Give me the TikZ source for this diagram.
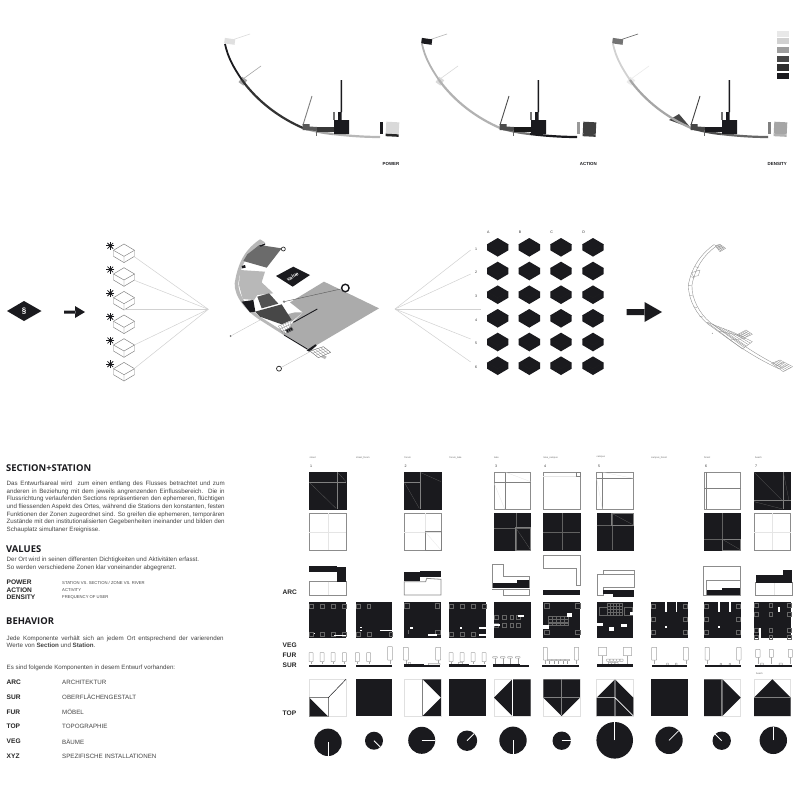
\documentclass[tikz,border=0pt]{standalone}
\usepackage{fontspec}
\setmainfont{Liberation Sans}
\newfontfamily\headfont{Open Sans}
\usetikzlibrary{calc}
\definecolor{inkc}{HTML}{1A1A1E}
\definecolor{txtc}{HTML}{444444}
\tikzset{
 blk/.style={fill=inkc,draw=none},
 bx/.style={draw=black!45,line width=0.8pt,fill=white},
 bxk/.style={draw=inkc,fill=inkc},
 fnt/.style={draw=black!10,line width=0.25pt},
 fntd/.style={draw=black!62,line width=0.22pt},
 gln/.style={draw=black!50,line width=0.8pt},
 ray/.style={draw=black!18,line width=0.5pt},
 pln/.style={draw=black!60,line width=0.38pt},
 tre/.style={draw=black!35,line width=0.5pt,fill=white,rounded corners=0.4pt},
 lab/.style={anchor=west,inner sep=0pt,font=\fontsize{6.2}{7.5}\selectfont,text=txtc},
 blab/.style={anchor=west,inner sep=0pt,font=\fontsize{6.6}{7.5}\selectfont\bfseries,text=black!85},
 hd/.style={anchor=west,inner sep=0pt,font=\headfont\fontsize{9.4}{11}\selectfont\bfseries,text=inkc},
 tinyl/.style={inner sep=0pt,font=\fontsize{2.4}{3}\selectfont,text=black!60},
 idx/.style={inner sep=0pt,font=\fontsize{3.6}{4}\selectfont,text=black!80},
 capl/.style={anchor=east,inner sep=0pt,font=\fontsize{4.4}{5}\selectfont\bfseries,text=inkc},
 lns/.style={draw=black!45,line width=0.3pt},
}
\newcommand\cellat[3]{\begin{scope}[shift={(#1,#2)},scale=0.33333]#3\end{scope}}
\newcommand\pl[1]{\foreach \x/\y in {#1}{\draw[pln] (\x,\y) rectangle ++(11,12);}}
\newcommand\wb[4]{\fill[white] (#1,#2) rectangle (#3,#4);}
\newcommand\kb[4]{\fill[inkc] (#1,#2) rectangle (#3,#4);}
\newcommand\tree[4]{\draw[draw=black!35,line width=0.3pt] ({(#1+#3)/2},#4) -- ({(#1+#3)/2},118); \draw[tre] (#1,#2) rectangle (#3,#4);}
\newcommand\tee[2]{\draw[draw=black!40,line width=0.3pt] ({#1},#2) -- ({#1},118); \draw[tre] ({#1-7},{#2-4}) rectangle ({#1+7},#2);}
\newcommand\gpatch[6]{%
 \foreach \t in {0,0.2,0.4,0.6,0.8,1}{\draw[lns] ($(#1)!\t!(#2)$) -- ($(#4)!\t!(#3)$);}%
 \foreach \t in {0,0.33,0.66,1}{\draw[lns] ($(#1)!\t!(#4)$) -- ($(#2)!\t!(#3)$);}}
\newcommand\iso[3]{% light box, name, x, y
 \begin{scope}[shift={(#2,#3)}]
 \draw[draw=black!50,line width=0.45pt,fill=white] (0,-9.3) -- (10.5,-3) -- (10.5,3) -- (0,9.3) -- (-10.5,3) -- (-10.5,-3) -- cycle;
 \draw[draw=black!50,line width=0.45pt] (-10.5,-3) -- (0,3) -- (10.5,-3) (0,3) -- (0,9.3);
 \foreach \a in {0,45,90,135}{\draw[inkc,line width=0.75pt] (-13.7,-7.5)++(\a:4) -- ++(\a+180:8);}
 \fill[inkc] (-13.7,-7.5) circle (1.9);
 \end{scope}}
\newcommand\hexk[2]{%
 \begin{scope}[shift={(#1,#2)}]
 \fill[inkc] (0,-9.3) -- (10.7,-3) -- (10.7,3) -- (0,9.3) -- (-10.7,3) -- (-10.7,-3) -- cycle;
 \draw[draw=black!88,line width=0.2pt] (-10.7,-3) -- (0,3) -- (10.7,-3) (0,3) -- (0,9.3);
 \end{scope}}
\newcommand\panel[1]{%
 \begin{scope}[shift={(#1,0)}]
 \draw[pline,line width=0.6pt] (232,40) -- (250,34);
 \draw[pbtwo,line width=0.6pt] (243,79) -- (261,66);
 \draw[plthree,line width=0.9pt] (303,125) -- (312,96);
 \fill[ptop,rotate around={-8:(229,41)}] (224.5,38.5) rectangle (235,44);
 \fill[pbtwo,rotate around={-35:(243,81)}] (240,78) rectangle (246,84.5);
 \draw[pa,line width=1.8pt] (225,44) .. controls (228,58) and (234,68) .. (242,80);
 \draw[pb,line width=2.2pt] (242,80) .. controls (258,102) and (280,118) .. (303,128);
 \draw[pc,line width=2.3pt] (303,128) .. controls (313,131) and (323,133) .. (333,134);
 \draw[pd,line width=2.2pt] (333,134) .. controls (350,136) and (365,137) .. (380,137);
 \fill[pe] (302.5,124) -- (309.5,124) -- (309.5,126.5) -- (317,127) -- (317,131) -- (302.5,130) -- cycle;
 \fill[pf] (317,127) rectangle (334,131.5);
 \fill[inkc] (334,120) rectangle (349,134) (338,112) rectangle (341.5,120) (340.5,80) rectangle (342,112);
 \fill[black!55] (333,112) rectangle (334.5,120);
 \fill[black!60] (316.4,130) rectangle (316.9,136);
 \fill[pg] (380,122) rectangle (383,134);
 \fill[ph,rotate around={-3:(392,128)}] (386,122) rectangle (399,134);
 \fill[pi,rotate around={-3:(392,128)}] (386,134) rectangle (399,136.5);
 \end{scope}}
\begin{document}
\begin{tikzpicture}[x=1pt,y=-1pt]
\useasboundingbox (0,0) rectangle (800,800);
\fill[white] (0,0) rectangle (800,800);
% ---------- top panels
\colorlet{pline}{black!15}\colorlet{plthree}{black!50}\colorlet{pbtwo}{black!35}
\colorlet{ptop}{black!12}\colorlet{pa}{inkc}\colorlet{pb}{black!80}\colorlet{pc}{black!35}\colorlet{pd}{black!28}
\colorlet{pe}{black!65}\colorlet{pf}{black!78}\colorlet{pg}{inkc}\colorlet{ph}{black!15}\colorlet{pi}{black!85}
\panel{0}
\colorlet{pline}{black!30}\colorlet{plthree}{black!70}\colorlet{pbtwo}{black!15}
\colorlet{ptop}{inkc}\colorlet{pa}{black!30}\colorlet{pb}{black!30}\colorlet{pc}{black!55}\colorlet{pd}{inkc}
\colorlet{pe}{black!70}\colorlet{pf}{black!90}\colorlet{pg}{black!40}\colorlet{ph}{black!75}\colorlet{pi}{black!75}
\panel{197}
\colorlet{pline}{black!65}\colorlet{plthree}{black!75}\colorlet{pbtwo}{black!8}
\colorlet{ptop}{black!55}\colorlet{pa}{black!18}\colorlet{pb}{black!35}\colorlet{pc}{black!70}\colorlet{pd}{black!60}
\colorlet{pe}{black!72}\colorlet{pf}{inkc}\colorlet{pg}{black!50}\colorlet{ph}{black!35}\colorlet{pi}{black!30}
\fill[black!72] (669,120) -- (679,114) -- (690,127) -- (680,124) -- cycle;
\panel{388}
\node[capl] (capP) at (399.5,164) {POWER};
\node[capl] (capA) at (597,164) {ACTION};
\node[capl] (capD) at (787,164) {DENSITY};
\fill[black!9] (777,31) rectangle (789,37);
\fill[black!18] (777,38.5) rectangle (789,44.5);
\fill[black!38] (777,47.5) rectangle (789,53.5);
\fill[black!72] (777,56) rectangle (789,62.5);
\fill[black!82] (777,64.5) rectangle (789,70.5);
\fill[inkc] (777,73) rectangle (789,79);
% ---------- middle row left
\fill[inkc] (7,311) -- (24,301) -- (41.5,311) -- (24,321) -- cycle;
\node[inner sep=0pt,text=white,font=\fontsize{8}{9}\selectfont\bfseries] (para) at (24,311) {§};
\fill[inkc] (64,310.5) rectangle (75.5,313.5) (75,306) -- (85,312) -- (75,318) -- cycle;
\foreach \yy in {253.3,277,300.7,324.3,348,371.7}{\iso{}{124}{\yy}}
\coordinate (apexL) at (208.3,309.3);
\coordinate (b1) at (134.3,256.7);\coordinate (b2) at (134.3,280.3);\coordinate (b3) at (124,309.3);
\coordinate (b5) at (134.3,345);\coordinate (b6) at (134.3,368.5);
\foreach \b in {b1,b2,b3,b5,b6}{\draw[ray] (\b) -- (apexL);}
% ---------- central plan
\begin{scope}[shift={(210,225)},scale=0.33333]
 \fill[black!28] (150,43) .. controls (110,70) and (85,105) .. (74,175) .. controls (72,215) and (110,260) .. (150,285) -- (300,380) -- (345,402) -- (350,395) -- (300,370) -- (150,275) .. controls (115,250) and (85,215) .. (85,175) .. controls (92,115) and (115,80) .. (165,52) -- cycle;
 \fill[black!58] (112,88) -- (148,60) -- (215,70) -- (170,128) -- (100,108) -- cycle;
 \fill[black!28] (90,135) -- (165,140) -- (155,172) -- (190,205) -- (142,210) -- (132,225) -- (98,222) -- (87,180) -- cycle;
 \fill[inkc] (95,230) -- (130,225) -- (136,260) -- (120,262) -- cycle;
 \fill[black!68] (142,215) -- (177,205) -- (205,236) -- (155,250) -- cycle;
 \fill[black!33] (342,170) -- (507,250) -- (300,372) -- (225,330) -- (245,295) -- (278,262) -- (240,232) -- cycle;
 \fill[black!33] (215,272) -- (255,262) -- (278,262) -- (245,290) -- (225,285) -- cycle;
 \fill[black!72] (135,260) -- (215,238) -- (245,285) -- (215,298) -- (150,275) -- cycle;
 \fill[inkc] (198,153) -- (250,125) -- (300,150) -- (248,185) -- cycle;
 \node[inner sep=0pt,text=white,rotate=30,font=\fontsize{5}{6}\selectfont\bfseries] (val) at (248,155) {value};
 \draw[inkc,line width=0.9pt] (250,292) -- (322,252);
 \draw[inkc,line width=0.8pt] (222,330) -- (292,372);
 \fill[inkc] (225,315) -- (245,306) -- (250,315) -- (232,324) -- cycle;
 \fill[inkc] (290,376) -- (316,358) -- (320,362) -- (298,380) -- cycle;
 \fill[inkc] (148,62) -- (165,55) -- (165,60) -- (152,65) -- cycle;
 \fill[inkc] (95,123) -- (105,120) -- (107,128) -- (97,130) -- cycle;
 \fill[white,draw=black!50,line width=0.3pt] (300,378) -- (340,365) -- (362,382) -- (325,398) -- cycle;
 \gpatch{300,378}{340,365}{362,382}{325,398}{}{}
 \gpatch{205,303}{240,290}{248,315}{220,328}{}{}
 \coordinate (c1) at (222,230);
 \node[circle,draw=inkc,line width=1.4pt,fill=white,minimum size=7.5pt,inner sep=0pt] (ringA) at (406,189) {};
 \draw[black!65,line width=0.4pt] (c1) -- (ringA);
 \fill[black!50] (c1) circle (4);
 \node[circle,draw=black!80,line width=0.7pt,fill=white,minimum size=4pt,inner sep=0pt] (ringB) at (220,72) {};
 \coordinate (c2) at (150,285);
 \node[circle,fill=black!55,minimum size=2pt,inner sep=0pt] (dotC) at (62,333) {};
 \draw[black!22,line width=0.4pt] (c2) -- (dotC);
 \coordinate (c3) at (300,380);
 \node[circle,draw=black!85,line width=0.7pt,fill=white,minimum size=5pt,inner sep=0pt] (ringD) at (207,431) {};
 \draw[black!25,line width=0.4pt] (c3) -- (ringD);
\end{scope}
% ---------- hex grid
\coordinate (apexR) at (395,309);
\coordinate (n1) at (470.7,250);\coordinate (n2) at (470.7,274);\coordinate (n3) at (480.7,309);
\coordinate (n5) at (470.7,339);\coordinate (n6) at (470.7,362);
\foreach \b in {n1,n2,n3,n5,n6}{\draw[ray] (apexR) -- (\b);}
\foreach \x in {497.7,529.3,561,593}{\foreach \y in {247.3,271,294.7,318.3,342,365.7}{\hexk{\x}{\y}}}
\foreach \x/\t in {488.3/A,520/B,551.7/C,583.7/D}{\node[idx] (h\t) at (\x,232) {\t};}
\foreach \y/\t in {249/1,272.7/2,296.3/3,320/4,343.3/5,367/6}{\node[idx] (r\t) at (476,\y) {\t};}
\fill[inkc] (626.7,309) rectangle (645,315) (644.5,302) -- (662,312) -- (644.5,322) -- cycle;
% ---------- wire plan
\begin{scope}[shift={(620,235)},scale=0.33333]
 \draw[black!45,line width=0.35pt] (283,28) .. controls (245,55) and (215,95) .. (205,150) .. controls (205,195) and (230,240) .. (265,268) -- (330,315) .. controls (380,350) and (420,375) .. (478,402);
 \draw[black!45,line width=0.35pt] (290,33) .. controls (250,60) and (225,100) .. (216,150) .. controls (214,190) and (238,235) .. (270,262) -- (340,310) .. controls (390,345) and (430,370) .. (482,396);
 \foreach \q/\r in {225/95,212/125,205/150,208/180,220/215,238/243}{\draw[black!45,line width=0.3pt] (\q,\r) -- ++(11,3);}
 \gpatch{262,262}{340,292}{397,320}{367,342}{}{}
 \gpatch{350,300}{378,285}{397,298}{370,310}{}{}
 \gpatch{455,385}{480,375}{518,395}{490,410}{}{}
 \gpatch{285,32}{300,28}{317,40}{300,50}{}{}
 \draw[lns] (215,113) -- (240,105) -- (235,122) -- (220,125) -- cycle;
 \fill[black!50] (277,295) circle (1.5);
\end{scope}
% ---------- left text
\node[hd] (t1) at (6,468.3) {SECTION+STATION};
\node[anchor=north west,inner sep=0pt,text width=218pt,align=justify,text=txtc,font=\fontsize{6.2}{7.55}\selectfont] (t2) at (6.5,481.2) {\tolerance=9999\emergencystretch=3em Das Entwurfsareal wird \ zum einen entlang des Flusses betrachtet und zum\linebreak anderen in Beziehung mit dem jeweils angrenzenden Einflussbereich. Die in\linebreak Flussrichtung verlaufenden Sections repräsentieren den ephemeren, flüchtigen\linebreak und fliessenden Aspekt des Ortes, während die Stations den konstanten, festen\linebreak Funktionen der Zonen zugeordnet sind. So greifen die ephemeren, temporären\linebreak Zustände mit den institutionalisierten Gegebenheiten ineinander und bilden den\linebreak Schauplatz simultaner Ereignisse.};
\node[hd] (t3) at (6,548.7) {VALUES};
\node[lab] (t4) at (6.5,560.3) {Der Ort wird in seinen differenten Dichtigkeiten und Aktivitäten erfasst.};
\node[lab] (t5) at (6.5,567.7) {So werden verschiedene Zonen klar voneinander abgegrenzt.};
\foreach \y/\a/\b in {582.7/POWER/STATION VS. SECTION {/} ZONE VS. RIVER,590/ACTION/ACTIVITY,597.3/DENSITY/FREQUENCY OF USER}{
 \node[blab] at (6.5,\y) {\a};
 \node[lab,font=\fontsize{4.2}{5}\selectfont] at (62,\y) {\b};}
\node[hd] (t6) at (6,621) {BEHAVIOR};
\node[anchor=west,inner sep=0pt,text width=217pt,align=justify,text=txtc,font=\fontsize{6.2}{7.4}\selectfont] (t7) at (6.5,642) {Jede Komponente verhält sich an jedem Ort entsprechend der varierenden\linebreak Werte von \textbf{Section} und \textbf{Station}.};
\node[lab] (t8) at (6.5,667.7) {Es sind folgende Komponenten in desem Entwurf vorhanden:};
\foreach \y/\a/\b in {682.7/ARC/ARCHITEKTUR,697.3/SUR/OBERFLÄCHENGESTALT,712/FUR/MÖBEL,726.7/TOP/TOPOGRAPHIE,741.7/VEG/BÄUME,756.3/XYZ/SPEZIFISCHE INSTALLATIONEN}{
 \node[blab] at (6.5,\y) {\a};
 \node[lab] at (62,\y) {\b};}
\foreach \y/\a in {592.7/ARC,645/VEG,655/FUR,665/SUR,713.7/TOP}{\node[blab] at (282.5,\y) {\a};}
% ---------- matrix headers
\foreach \x/\t in {309.5/street,356/street\_forum,404.5/forum,449.5/forum\_lake,494/lake,543.5/lake\_campus,596.5/campus,651/campus\_forest,704/forest,755/beach}{\node[tinyl,anchor=west] at (\x,457.5) {\t};}
\foreach \x/\t in {310/1,404.5/2,495/3,544/4,598/5,705/6,755/7}{\node[idx,anchor=west] at (\x,466.3) {\t};}
\node[tinyl,anchor=west] (beach2) at (756,673.3) {beach};
\def\XA{309.3}\def\XB{355.7}\def\XC{404.3}\def\XD{449.3}\def\XE{494}\def\XF{543.3}\def\XG{596.7}\def\XH{651}\def\XI{704}\def\XJ{754}
% ---------- row A
\cellat{\XA}{472.3}{\draw[bxk] (0,0) rectangle (110,110); \draw[gln] (0,30)--(110,30) (83,0)--(83,110); \draw[fntd] (0,30)--(80,108) (85,0)--(110,28);}
\cellat{\XC}{472.3}{\draw[bxk] (0,0) rectangle (110,110); \draw[gln] (0,30)--(47,30) (47,0)--(47,110); \draw[fntd] (0,30)--(45,108) (47,0)--(110,28);}
\cellat{\XE}{472.3}{\draw[bx] (0,0) rectangle (110,110); \draw[gln,line width=0.5pt] (0,30)--(110,30) (35,0)--(35,110); \draw[fnt] (35,0)--(110,28) (0,32)--(32,110);}
\cellat{\XF}{472.3}{\draw[bx] (0,0) rectangle (110,110); \draw[fnt] (0,12)--(100,12); \draw[gln,line width=0.4pt] (100,0) rectangle (110,12);}
\cellat{\XG}{472.3}{\draw[bx] (0,0) rectangle (110,110); \draw[gln,line width=0.5pt] (0,18)--(110,18) (18,0)--(18,110); \draw[fnt] (18,0)--(110,18) (0,20)--(17,110);}
\cellat{\XI}{472.3}{\draw[bx] (0,0) rectangle (110,110); \draw[gln,line width=0.5pt] (0,47)--(110,47) (8,0)--(8,110);}
\cellat{\XJ}{472.3}{\draw[bxk] (0,0) rectangle (110,110); \draw[gln,line width=0.5pt] (0,85)--(110,85) (88,0)--(88,110); \draw[fntd] (0,0)--(85,85) (88,0)--(105,85) (0,88)--(85,110);}
% ---------- row B
\cellat{\XA}{513.3}{\draw[bx] (0,0) rectangle (110,110); \draw[fnt] (0,55)--(110,55) (55,0)--(55,110);}
\cellat{\XC}{513.3}{\draw[bx] (0,0) rectangle (110,110); \draw[fnt] (0,55)--(110,55) (62,0)--(62,110); \draw[gln] (62,55) rectangle (110,110); \draw[fnt] (62,55)--(110,110);}
\cellat{\XE}{513.3}{\draw[bxk] (0,0) rectangle (110,110); \draw[fntd] (0,43)--(110,43) (65,0)--(65,110); \draw[gln] (65,43) rectangle (110,110); \draw[fntd] (65,43)--(110,110);}
\cellat{\XF}{513.3}{\draw[bxk] (0,0) rectangle (110,110); \draw[fntd] (0,55)--(110,55) (55,0)--(55,110);}
\cellat{\XG}{513.3}{\draw[bxk] (0,0) rectangle (110,110); \draw[fntd] (0,35)--(110,35) (45,0)--(45,110); \draw[gln] (45,0) rectangle (110,35); \draw[fntd] (45,0)--(110,35);}
\cellat{\XI}{513.3}{\draw[bxk] (0,0) rectangle (110,110); \draw[fntd] (0,78)--(110,78) (55,0)--(55,110); \draw[gln] (55,78) rectangle (110,110); \draw[fntd] (55,78)--(110,110);}
\cellat{\XJ}{513.3}{\draw[bx] (0,0) rectangle (110,110); \draw[fnt] (0,55)--(110,55) (55,0)--(55,110);}
% ---------- row C (elevations)
\begin{scope}[shift={(280,450)},scale=0.33333]
 \draw[bx] (88,395) rectangle (198,435); \draw[fnt] (143,395)--(143,435);
 \kb{88}{347}{170}{367}\kb{170}{352}{198}{395}
 \draw[bx] (373,395) -- (437,395) -- (440,385) -- (483,388) -- (483,435) -- (373,435) -- cycle;
 \kb{373}{365}{420}{393}\kb{420}{362}{483}{381}
 \draw[bx] (637,343) -- (670,343) -- (670,380) -- (747,380) -- (747,412) -- (637,412) -- cycle;
 \draw[bx] (637,418) -- (747,418) -- (747,435) -- (670,435) -- (670,420);
 \kb{638}{400}{747}{414}\kb{710}{390}{747}{414}
\end{scope}
\begin{scope}[shift={(530,450)},scale=0.33333]
 \draw[bx] (40,315) -- (150,315) -- (150,405) -- (140,405) -- (140,355) -- (40,355) -- cycle;
 \kb{40}{419}{150}{435}
 \draw[bx] (220,372) -- (220,360) -- (312,360) -- (312,372);
 \draw[bx] (203,372) -- (312,372) -- (312,412) -- (220,412) -- (220,435) -- (203,435) -- cycle;
 \kb{220}{420}{312}{433}\kb{248}{420}{312}{440}
 \draw[bx] (520,350) -- (630,350) -- (630,392) -- (528,392) -- (528,435) -- (520,435) -- cycle;
 \draw[bx] (528,392) -- (630,392) -- (630,435) -- (528,435) -- cycle;
 \kb{530}{420}{630}{435}\kb{575}{413}{630}{435}
 \draw[bx] (677,398) rectangle (787,435); \draw[fnt] (732,398)--(732,435);
 \kb{677}{375}{787}{400}\kb{760}{360}{787}{400}
\end{scope}
% ---------- row D (plans)
\cellat{\XA}{601.7}{\kb{0}{0}{110}{110}\pl{1/8,33/8,66/8,99/8,1/90,33/90,66/90,99/90}\wb{74}{99}{110}{102}\wb{15}{93}{18}{96}}
\cellat{\XB}{601.7}{\kb{0}{0}{110}{110}\pl{1/8,33/8,1/90,35/90,99/90}\wb{73}{84}{110}{87}\wb{14}{84}{18}{88}\wb{14}{77}{18}{79}}
\cellat{\XC}{601.7}{\kb{0}{0}{110}{110}\draw[pln] (0,5) rectangle (14,20) (92,5) rectangle (106,20) (92,85) rectangle (107,98);\wb{18}{76}{25}{81}\wb{70}{98}{97}{103}\draw[pln] (12,85) -- (12,98);}
\cellat{\XD}{601.7}{\kb{0}{0}{110}{110}\pl{1/8,33/8,66/8,99/8,1/90,33/90,66/90}\wb{32}{76}{38}{81}\wb{89}{76}{110}{81}\wb{89}{98}{110}{103}}
\cellat{\XE}{601.7}{\kb{0}{0}{110}{110}\pl{2/39,25/39,48/39,68/39,2/65,25/65,48/65,68/65}\wb{71}{41}{90}{45}\wb{0}{68}{18}{72}}
\cellat{\XF}{601.7}{\kb{0}{0}{110}{110}\draw[pln] (3,5) rectangle (17,20) (95,5) rectangle (110,20) (95,85) rectangle (110,98) (3,85) rectangle (17,98);
 \foreach \x in {15,27,39,51,63}{\foreach \y in {43,53,63}{\draw[pln,line width=0.22pt] (\x,\y) rectangle ++(10,8);}}\wb{72}{35}{85}{45}\wb{0}{70}{18}{82}}
\cellat{\XG}{601.7}{\kb{0}{0}{110}{110}\foreach \x in {31,40,49,58,67}{\foreach \y in {3,12,21,30}{\draw[pln,line width=0.22pt] (\x,\y) rectangle ++(9,9);}}\draw[pln] (6,15) rectangle (31,40) (81,15) rectangle (106,40);\wb{101}{31}{110}{40}\wb{1}{63}{19}{73}\wb{36}{75}{51}{88}\wb{73}{68}{91}{75}}
\cellat{\XH}{601.7}{\kb{0}{0}{110}{110}\pl{2/7,97/7,2/46,97/46,2/86,97/86}\wb{42}{0}{47}{32}\wb{74}{0}{79}{32}\wb{43}{73}{48}{78}}
\cellat{\XI}{601.7}{\kb{0}{0}{110}{110}\pl{2/7,97/7,2/46,97/46,2/86,97/86}\wb{43}{0}{48}{32}\wb{75}{0}{80}{32}\wb{43}{73}{48}{78}}
\cellat{\XJ}{601.7}{\kb{0}{0}{110}{110}\pl{2/5,45/5,100/5,2/30,45/30,100/30,2/78,45/78,100/78,2/100,45/100,100/100}\wb{72}{15}{79}{32}\wb{16}{80}{22}{110}}
% ---------- row E (furniture)
\begin{scope}[shift={(280,625)},scale=0.33333]
 \foreach \c in {93,126,159,193}{\tree{\c-6}{83}{\c+6}{110}}
 \kb{88}{120}{198}{127}
 \foreach \c in {232,266}{\tree{\c-6}{83}{\c+6}{110}}
 \tree{323}{65}{337}{105}\kb{227}{120}{337}{127}
 \tree{370}{67}{385}{105}\tree{467}{67}{482}{105}
 \draw[tre] (385,112) rectangle (392,118);\draw[tre] (445,115) rectangle (480,120);
 \kb{373}{120}{480}{127}\kb{373}{117}{432}{120}
 \foreach \c in {513,546,579,612}{\tree{\c-6}{83}{\c+6}{110}}
 \draw[tre] (535,112) rectangle (548,118);\kb{508}{120}{618}{127}\kb{508}{117}{568}{120}
 \foreach \c in {645,668,690,713}{\tee{\c}{99}}
 \kb{640}{118}{720}{127}\kb{720}{120}{747}{127}
\end{scope}
\begin{scope}[shift={(530,625)},scale=0.33333]
 \tree{40}{67}{52}{105}\tree{133}{67}{146}{105}
 \foreach \c in {58,72,85,98,112}{\tee{\c}{107}}
 \kb{37}{119}{147}{127}
 \tree{205}{67}{230}{92}\tree{280}{67}{305}{92}
 \foreach \c in {230,240,250,260,270}{\draw[tre] (\c,102) rectangle ++(9,7);}
 \foreach \c in {235,245,255}{\draw[tre] (\c,112) rectangle ++(9,6);}
 \kb{200}{118}{308}{127}
 \tree{365}{67}{380}{105}\tree{460}{67}{475}{105}
 \draw[tre] (410,114) rectangle (415,120);\draw[tre] (436,114) rectangle (441,120);
 \kb{365}{120}{472}{127}
 \tree{525}{67}{538}{105}\tree{620}{67}{633}{105}
 \draw[tre] (570,115) rectangle (575,120);\draw[tre] (597,115) rectangle (602,120);
 \kb{525}{120}{632}{127}
 \tree{677}{73}{690}{97}\tree{718}{73}{730}{97}\tree{775}{73}{787}{97}
 \draw[tre] (692,114) rectangle (700,120);\draw[tre] (747,114) rectangle (757,120);
 \kb{676}{120}{785}{127}
\end{scope}
% ---------- row F (TOP)
\tikzset{tb/.style={draw=black!12,line width=0.6pt,fill=white}}
\cellat{\XA}{679.3}{\draw[tb] (0,0) rectangle (110,110); \fill[inkc] (0,55)--(55,110)--(0,110)--cycle; \draw[gln] (0,55) rectangle (57,110); \draw[inkc,line width=0.5pt] (57,55)--(110,0);}
\cellat{\XB}{679.3}{\kb{0}{0}{110}{110}}
\cellat{\XC}{679.3}{\draw[tb] (0,0) rectangle (110,110); \fill[inkc] (55,0)--(110,0)--(110,55)--cycle (55,110)--(110,110)--(110,55)--cycle; \draw[gln] (55,0)--(55,110);}
\cellat{\XD}{679.3}{\kb{0}{0}{110}{110}}
\cellat{\XE}{679.3}{\draw[tb] (0,0) rectangle (110,110); \fill[inkc] (55,0) rectangle (110,110) (0,55)--(55,0)--(55,110)--cycle; \draw[white,line width=0.7pt] (54,0)--(54,110);}
\cellat{\XF}{679.3}{\draw[tb] (0,0) rectangle (110,110); \fill[inkc] (0,0)--(110,0)--(110,55)--(55,110)--(0,55)--cycle; \draw[gln] (55,0)--(55,108) (0,55)--(110,55);}
\cellat{\XG}{679.3}{\draw[tb] (0,0) rectangle (110,110); \fill[inkc] (55,0)--(110,55)--(110,110)--(0,110)--(0,55)--cycle; \draw[white,line width=0.6pt] (55,0)--(55,110) (0,55)--(55,55)--(110,110);}
\cellat{\XH}{679.3}{\kb{0}{0}{110}{110}}
\cellat{\XI}{679.3}{\draw[tb] (0,0) rectangle (110,110); \fill[inkc] (0,0) rectangle (52,110) (55,0)--(110,55)--(55,110)--cycle; \draw[gln] (53,0)--(53,110);}
\cellat{\XJ}{679.3}{\draw[tb] (0,0) rectangle (110,110); \fill[inkc] (0,55) rectangle (110,110) (0,55)--(55,0)--(110,55)--cycle; \draw[gln] (0,55)--(110,55);}
% ---------- row G (circles)
\foreach \x/\y/\r/\a in {328/742.3/13.7/270,374/740.7/9/-45,421.7/740.3/13.5/0,467/740.7/10.2/45,513/740.3/13.7/270,561.7/740.7/9.2/0,614.7/740.3/18.3/90,669/740.3/13.7/45,721.7/740.7/9.2/135,773.3/740.3/13.7/90}{
 \fill[inkc] (\x,\y) circle (\r);
 \draw[white,line width=0.8pt] (\x,\y) -- ++({-\a}:\r);
}
\end{tikzpicture}
\end{document}
